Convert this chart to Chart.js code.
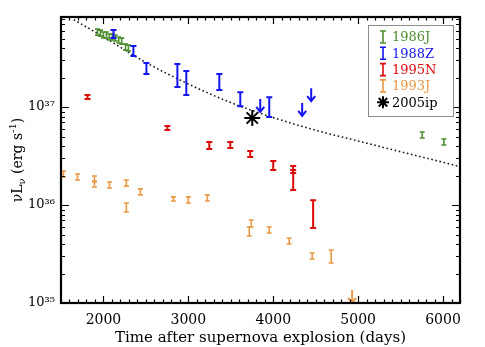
<!DOCTYPE html>
<html>
<head>
<meta charset="utf-8">
<script src="https://cdn.jsdelivr.net/npm/chart.js@4.4.1/dist/chart.umd.min.js"></script>
<style>
  html, body { margin: 0; padding: 0; background: #fff; }
</style>
</head>
<body>
<canvas id="myChart" width="485" height="347"></canvas>
<script>
// values (days, erg/s)
const sn86J_t  = [1930, 1965, 2000, 2035, 2070, 2105, 2140, 2180, 2215, 2260, 2295, 5755, 6010];
const sn86J_L  = [5.82e37, 5.69e37, 5.43e37, 5.43e37, 5.18e37, 5.18e37, 5.06e37, 4.83e37, 4.71e37, 4.09e37, 4.00e37, 5.18e36, 4.40e36];
const sn86J_lo = [5.42e37, 5.30e37, 5.06e37, 5.06e37, 4.83e37, 4.83e37, 4.72e37, 4.50e37, 4.39e37, 3.81e37, 3.73e37, 4.83e36, 4.10e36];
const sn86J_hi = [6.24e37, 6.10e37, 5.83e37, 5.83e37, 5.56e37, 5.56e37, 5.43e37, 5.18e37, 5.05e37, 4.39e37, 4.29e37, 5.56e36, 4.72e36];

const sn88Z_t  = [2118, 2353, 2506, 2871, 2976, 3365, 3612, 3953];
const sn88Z_L  = [5.56e37, 3.73e37, 2.47e37, 2.10e37, 1.76e37, 1.80e37, 1.21e37, 1.00e37];
const sn88Z_lo = [5.06e37, 3.31e37, 2.17e37, 1.60e37, 1.33e37, 1.49e37, 1.02e37, 7.91e36];
const sn88Z_hi = [6.11e37, 4.19e37, 2.81e37, 2.75e37, 2.33e37, 2.17e37, 1.42e37, 1.26e37];
const sn88Z_ulT = [3847, 4341, 4447];
const sn88Z_ulL = [1.21e37, 1.10e37, 1.56e37];

const sn95N_t  = [1812, 2753, 3247, 3494, 3729, 4000, 4235, 4235, 4470];
const sn95N_L  = [1.26e37, 6.11e36, 4.05e36, 4.09e36, 3.31e36, 2.53e36, 2.30e36, 1.80e36, 8.09e35];
const sn95N_lo = [1.21e37, 5.82e36, 3.73e36, 3.82e36, 3.09e36, 2.28e36, 2.12e36, 1.42e36, 5.82e35];
const sn95N_hi = [1.33e37, 6.40e36, 4.40e36, 4.40e36, 3.56e36, 2.81e36, 2.50e36, 2.28e36, 1.12e36];

const sn93J_t  = [1529, 1694, 1894, 1894, 2071, 2270, 2270, 2435, 2824, 3000, 3224, 3718, 3741, 3953, 4188, 4459, 4682];
const sn93J_L  = [2.07e36, 1.93e36, 1.84e36, 1.64e36, 1.60e36, 1.68e36, 9.44e35, 1.36e36, 1.15e36, 1.12e36, 1.18e36, 5.44e35, 6.55e35, 5.56e35, 4.30e35, 3.02e35, 2.95e35];
const sn93J_lo = [1.93e36, 1.80e36, 1.72e36, 1.53e36, 1.49e36, 1.56e36, 8.49e35, 1.27e36, 1.10e36, 1.05e36, 1.10e36, 4.83e35, 5.96e35, 5.18e35, 4.00e35, 2.81e35, 2.56e35];
const sn93J_hi = [2.22e36, 2.07e36, 1.98e36, 1.76e36, 1.72e36, 1.80e36, 1.05e36, 1.46e36, 1.21e36, 1.21e36, 1.27e36, 5.96e35, 7.03e35, 5.96e35, 4.61e35, 3.24e35, 3.48e35];
const sn93J_ulT = [4929];
const sn93J_ulL = [1.36e35];

const sn05ip_t = [3753];
const sn05ip_L = [7.73e36];

// dotted curve, read at a few epochs
const fit_t = [1650, 2000, 2500, 3000, 3500, 4000, 4500, 5000, 5500, 6000, 6170];
const fit_L = [7.8e37, 5.2e37, 2.85e37, 1.72e37, 1.11e37, 7.8e36, 5.8e36, 4.5e36, 3.5e36, 2.73e36, 2.5e36];

const xTicks = [2000, 3000, 4000, 5000, 6000];
const yTicks = [1e35, 1e36, 1e37];
const yTickLabels = ['10³⁵', '10³⁶', '10³⁷'];

const FONT = 'DejaVu Serif';
const cGreen = '#4f8f2f', cBlue = '#1414f0', cRed = '#dc0a0a', cOrange = '#e99a45';

const pts = (t, L) => t.map((v, i) => ({x: v, y: L[i]}));

const errPlugin = {
  id: 'errbars',
  afterDatasetsDraw(chart) {
    const {ctx, scales: {x, y}, chartArea} = chart;
    ctx.save();
    ctx.beginPath();
    ctx.rect(chartArea.left, chartArea.top, chartArea.right - chartArea.left, chartArea.bottom - chartArea.top);
    ctx.clip();
    chart.data.datasets.forEach(ds => {
      if (ds.errLo) {
        ctx.strokeStyle = ds.borderColor;
        ctx.lineWidth = ds.barWidth;
        ds.data.forEach((p, i) => {
          const px = x.getPixelForValue(p.x);
          const y1 = y.getPixelForValue(ds.errLo[i]);
          const y2 = y.getPixelForValue(ds.errHi[i]);
          const c = ds.capHalf;
          ctx.beginPath();
          ctx.moveTo(px, y1); ctx.lineTo(px, y2);
          ctx.moveTo(px - c, y1); ctx.lineTo(px + c, y1);
          ctx.moveTo(px - c, y2); ctx.lineTo(px + c, y2);
          ctx.stroke();
        });
      }
      if (ds.upperLimit) {
        ctx.strokeStyle = ds.borderColor;
        ctx.lineWidth = 2;
        ds.data.forEach(p => {
          const px = x.getPixelForValue(p.x);
          const y1 = y.getPixelForValue(p.y);
          const y2 = y1 + 13;
          ctx.beginPath();
          ctx.moveTo(px, y1); ctx.lineTo(px, y2);
          ctx.moveTo(px - 4, y2 - 5); ctx.lineTo(px, y2); ctx.lineTo(px + 4, y2 - 5);
          ctx.stroke();
        });
      }
    });
    ctx.restore();
  }
};

const framePlugin = {
  id: 'frame',
  afterDraw(chart) {
    const {ctx, scales: {x, y}, chartArea: a} = chart;
    ctx.save();
    ctx.strokeStyle = '#000';
    ctx.lineWidth = 1.2;
    ctx.beginPath();
    // x ticks, top and bottom, pointing inward
    for (let t = 1600; t <= 6200; t += 100) {
      const px = Math.round(x.getPixelForValue(t)) + 0.5;
      const len = t % 1000 === 0 ? 7 : 3.5;
      ctx.moveTo(px, a.bottom); ctx.lineTo(px, a.bottom - len);
      ctx.moveTo(px, a.top); ctx.lineTo(px, a.top + len);
    }
    // y ticks, left and right
    for (let e = 35; e <= 37; e++) {
      for (let m = 1; m <= 9; m++) {
        const v = m * Math.pow(10, e);
        if (v > y.max) break;
        const py = Math.round(y.getPixelForValue(v)) + 0.5;
        const len = m === 1 ? 8 : 4;
        ctx.moveTo(a.left, py); ctx.lineTo(a.left + len, py);
        ctx.moveTo(a.right, py); ctx.lineTo(a.right - len, py);
      }
    }
    ctx.stroke();
    ctx.lineWidth = 2.2;
    ctx.strokeRect(a.left, a.top, a.right - a.left, a.bottom - a.top);

    // y axis title with sub/superscripts
    ctx.translate(17, (a.top + a.bottom) / 2);
    ctx.rotate(-Math.PI / 2);
    ctx.fillStyle = '#000';
    ctx.textBaseline = 'alphabetic';
    const big = '14px "' + FONT + '"', small = '10px "' + FONT + '"';
    const parts = [
      ['νL', big, 0], ['ν', small, 3], [' (erg s', big, 0], ['-1', small, -6], [')', big, 0]
    ];
    let w = 0;
    parts.forEach(p => { ctx.font = p[1]; w += ctx.measureText(p[0]).width; });
    let cx = -w / 2;
    parts.forEach(p => {
      ctx.font = p[1];
      ctx.fillText(p[0], cx, 5 + p[2]);
      cx += ctx.measureText(p[0]).width;
    });
    ctx.restore();

    // legend box
    ctx.save();
    const bx = 368, by = 25, bw = 85, bh = 91;
    ctx.fillStyle = '#fff';
    ctx.fillRect(bx, by, bw, bh);
    ctx.strokeStyle = '#8c8c8c';
    ctx.lineWidth = 1;
    ctx.strokeRect(bx + 0.5, by + 0.5, bw, bh);
    ctx.font = '13px "' + FONT + '"';
    ctx.textBaseline = 'middle';
    let row = 0;
    chart.data.datasets.forEach(ds => {
      if (!ds.legendKind) return;
      const ly = by + 12 + row * 16.3;
      const ix = bx + 15;
      ctx.strokeStyle = ds.borderColor;
      ctx.fillStyle = ds.borderColor;
      if (ds.legendKind === 'bar') {
        ctx.lineWidth = 1.6;
        ctx.beginPath();
        ctx.moveTo(ix, ly - 6); ctx.lineTo(ix, ly + 6);
        ctx.moveTo(ix - 3, ly - 6); ctx.lineTo(ix + 3, ly - 6);
        ctx.moveTo(ix - 3, ly + 6); ctx.lineTo(ix + 3, ly + 6);
        ctx.stroke();
      } else {
        ctx.lineWidth = 2;
        ctx.beginPath();
        for (let k = 0; k < 4; k++) {
          const ang = k * Math.PI / 4;
          const dx = 6 * Math.cos(ang), dy = 6 * Math.sin(ang);
          ctx.moveTo(ix - dx, ly - dy); ctx.lineTo(ix + dx, ly + dy);
        }
        ctx.stroke();
      }
      ctx.fillText(ds.label, bx + 24, ly + 1);
      row++;
    });
    ctx.restore();
  }
};

const ctx = document.getElementById('myChart').getContext('2d');

const myChart = new Chart(ctx, {
  type: 'scatter',
  data: {
    datasets: [
      {
        label: 'fit', type: 'line', data: pts(fit_t, fit_L),
        borderColor: '#1a1a1a', borderWidth: 1.6, borderDash: [1.6, 2.6],
        pointRadius: 0, cubicInterpolationMode: 'monotone', fill: false
      },
      {
        label: '1986J', data: pts(sn86J_t, sn86J_L), errLo: sn86J_lo, errHi: sn86J_hi,
        borderColor: cGreen, backgroundColor: cGreen, pointRadius: 0,
        barWidth: 1.6, capHalf: 2.5, legendKind: 'bar'
      },
      {
        label: '1988Z', data: pts(sn88Z_t, sn88Z_L), errLo: sn88Z_lo, errHi: sn88Z_hi,
        borderColor: cBlue, backgroundColor: cBlue, pointRadius: 0,
        barWidth: 2, capHalf: 3, legendKind: 'bar'
      },
      {
        label: '1995N', data: pts(sn95N_t, sn95N_L), errLo: sn95N_lo, errHi: sn95N_hi,
        borderColor: cRed, backgroundColor: cRed, pointRadius: 0,
        barWidth: 2, capHalf: 3, legendKind: 'bar'
      },
      {
        label: '1993J', data: pts(sn93J_t, sn93J_L), errLo: sn93J_lo, errHi: sn93J_hi,
        borderColor: cOrange, backgroundColor: cOrange, pointRadius: 0,
        barWidth: 1.6, capHalf: 2.5, legendKind: 'bar'
      },
      {
        label: '2005ip', data: pts(sn05ip_t, sn05ip_L),
        borderColor: '#000', backgroundColor: '#000', pointStyle: 'star',
        pointRadius: 8, borderWidth: 2, legendKind: 'star'
      },
      {
        label: '1988Z limits', data: pts(sn88Z_ulT, sn88Z_ulL), upperLimit: true,
        borderColor: cBlue, pointRadius: 0
      },
      {
        label: '1993J limits', data: pts(sn93J_ulT, sn93J_ulL), upperLimit: true,
        borderColor: cOrange, pointRadius: 0
      }
    ]
  },
  options: {
    responsive: false,
    animation: false,
    layout: { padding: { top: 17, right: 25, left: 0, bottom: 0 } },
    plugins: { legend: { display: false }, tooltip: { enabled: false } },
    scales: {
      x: {
        type: 'linear', min: 1500, max: 6200,
        afterBuildTicks: s => { s.ticks = xTicks.map(v => ({ value: v })); },
        afterFit: s => { s.height = 44; },
        grid: { display: false, drawTicks: false },
        border: { display: false },
        ticks: {
          color: '#000', padding: 9, maxRotation: 0, autoSkip: false,
          font: { family: FONT, size: 14 },
          callback: v => String(v)
        },
        title: {
          display: true, text: 'Time after supernova explosion (days)', color: '#000',
          font: { family: FONT, size: 15 }, padding: { top: 0, bottom: 0 }
        }
      },
      y: {
        type: 'logarithmic', min: 1e35, max: 8.3e37,
        afterBuildTicks: s => { s.ticks = yTicks.map(v => ({ value: v })); },
        afterFit: s => { s.width = 61; },
        grid: { display: false, drawTicks: false },
        border: { display: false },
        ticks: {
          color: '#000', padding: 6, autoSkip: false,
          font: { family: FONT, size: 13 },
          callback: (v, i) => yTickLabels[i]
        }
      }
    }
  },
  plugins: [errPlugin, framePlugin]
});
</script>
</body>
</html>
